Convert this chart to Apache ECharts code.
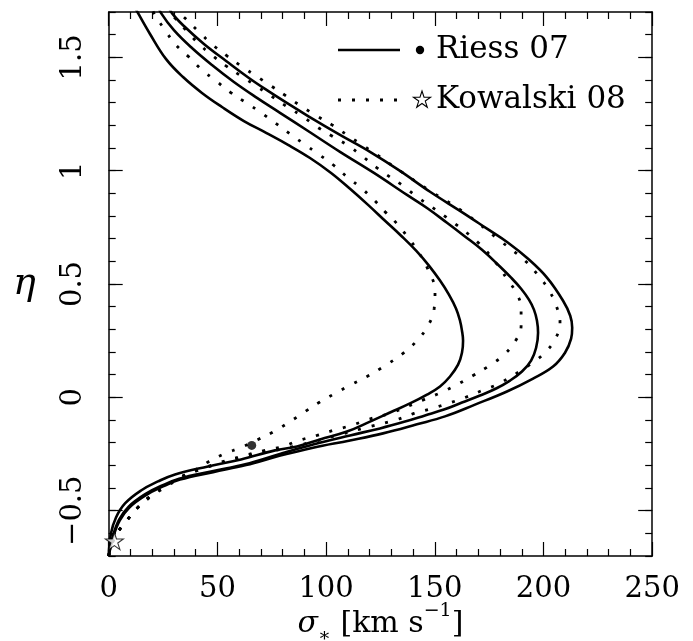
<!DOCTYPE html>
<html>
<head>
<meta charset="utf-8">
<script src="https://cdn.jsdelivr.net/npm/echarts@6/dist/echarts.min.js"></script>
<style>
  html, body { margin: 0; padding: 0; background: #fff; }
  #chart { width: 693px; height: 641px; }
</style>
</head>
<body>
<div id="chart"></div>
<script>
// Constraint curves in the (sigma_*, eta) plane, [sigma, eta] pairs.
const solidInner = [
  [0,-0.70],[1.06,-0.600],[3.36,-0.530],[7.50,-0.468],[14.86,-0.411],[22.68,-0.371],[30.50,-0.340],
  [45.68,-0.305],[60.86,-0.274],[76.5,-0.234],[86.6,-0.217],[97.2,-0.186],[109.6,-0.151],
  [120.2,-0.107],[129.4,-0.067],[138.6,-0.027],[146.4,0.012],[152.4,0.048],[157.0,0.092],
  [160.7,0.144],[162.5,0.197],[163.0,0.250],[162.5,0.294],[161.6,0.338],[159.8,0.391],
  [156.5,0.453],[152.4,0.515],[147.3,0.581],[141.4,0.647],[134.5,0.713],[127.1,0.779],
  [119.3,0.849],[111.0,0.920],[102.3,0.990],[92.6,1.056],[82.5,1.114],[72.4,1.167],
  [62.2,1.219],[52.1,1.281],[42.9,1.343],[34.2,1.413],[26.4,1.492],[19.0,1.603],[13.5,1.695],
  [11.6,1.730]
];
const solidMiddle = [
  [0,-0.70],[2.0,-0.610],[4.8,-0.540],[9.2,-0.482],[16.8,-0.427],[24.6,-0.389],[32.4,-0.359],
  [47.6,-0.326],[62.8,-0.295],[78.0,-0.252],[94.0,-0.208],[111.0,-0.168],[124.8,-0.137],
  [136.3,-0.107],[145.5,-0.080],[154.2,-0.054],[162.5,-0.023],[170.8,0.008],[178.2,0.039],
  [184.6,0.074],[190.1,0.114],[194.3,0.162],[196.6,0.219],[197.5,0.285],[197.0,0.338],
  [195.6,0.387],[193.3,0.431],[189.7,0.479],[185.1,0.528],[179.1,0.585],[171.7,0.651],
  [163.4,0.713],[155.6,0.770],[146.9,0.832],[137.2,0.893],[122.0,0.990],[106.4,1.083],
  [91.7,1.175],[78.8,1.255],[68.2,1.321],[57.6,1.391],[47.5,1.466],[38.3,1.541],[30.0,1.620],
  [24.1,1.695],[22.7,1.730]
];
const solidOuter = [
  [0,-0.70],[2.2,-0.612],[5.1,-0.543],[9.5,-0.486],[17.2,-0.431],[25.0,-0.393],[32.8,-0.363],
  [48.0,-0.330],[63.2,-0.299],[78.5,-0.258],[94.0,-0.222],[111.0,-0.190],[126.2,-0.159],
  [141.8,-0.119],[154.7,-0.084],[168.5,-0.032],[183.2,0.026],[195.2,0.083],[204.4,0.136],
  [209.9,0.197],[212.7,0.259],[213.2,0.307],[212.3,0.360],[209.0,0.426],[201.6,0.528],
  [192.9,0.611],[183.7,0.682],[174.0,0.744],[163.0,0.814],[147.8,0.907],[134.0,0.999],
  [120.2,1.083],[106.4,1.158],[91.7,1.241],[83.4,1.290],[73.3,1.352],[64.5,1.409],[54.0,1.484],
  [43.8,1.559],[34.6,1.638],[29.1,1.695],[27.3,1.730]
];
const dottedInner = [
  [0,-0.70],[1.52,-0.635],[4.28,-0.591],[7.96,-0.547],[12.56,-0.494],[19.0,-0.441],[25.9,-0.397],
  [32.8,-0.358],[39.7,-0.322],[46.14,-0.283],[53.5,-0.248],[60.86,-0.221],[68.68,-0.186],
  [76.04,-0.151],[83.4,-0.107],[90.3,-0.063],[96.74,-0.023],[104.1,0.017],[111.5,0.056],
  [118.8,0.092],[125.7,0.131],[135.8,0.197],[141.8,0.250],[146.9,0.316],[149.7,0.391],
  [150.1,0.471],[146.9,0.563],[142.7,0.638],[138.1,0.700],[132.6,0.766],[127.1,0.819],
  [122.0,0.871],[116.1,0.924],[109.6,0.973],[103.2,1.026],[96.28,1.074],[89.84,1.118],
  [83.4,1.162],[76.5,1.211],[69.6,1.259],[62.7,1.303],[55.8,1.347],[49.36,1.396],[42.92,1.444],
  [36.94,1.501],[30.96,1.554],[25.9,1.620],[21.3,1.686],[19.9,1.713]
];
const dottedMiddle = [
  [0,-0.70],[1.98,-0.635],[4.74,-0.587],[8.42,-0.543],[13.02,-0.490],[19.0,-0.437],[25.9,-0.393],
  [32.8,-0.353],[42.0,-0.318],[51.2,-0.287],[60.86,-0.261],[71.9,-0.234],[80.18,-0.217],
  [87.54,-0.190],[95.82,-0.168],[103.2,-0.146],[111.5,-0.124],[119.3,-0.098],[130.3,-0.067],
  [145.0,-0.010],[152.9,0.021],[160.2,0.056],[167.6,0.096],[174.5,0.136],[181.4,0.184],
  [186.9,0.246],[189.7,0.316],[189.7,0.396],[186.9,0.471],[183.7,0.515],[179.1,0.581],
  [170.0,0.682],[155.6,0.792],[141.8,0.885],[135.4,0.933],[128.0,0.981],[123.4,1.012],
  [116.5,1.065],[109.6,1.114],[102.7,1.153],[95.82,1.193],[88.92,1.241],[81.56,1.285],
  [74.66,1.330],[67.76,1.374],[60.86,1.418],[53.96,1.462],[47.98,1.506],[41.54,1.559],
  [35.56,1.620],[30.5,1.673],[28.2,1.704]
];
const dottedOuter = [
  [0,-0.70],[1.98,-0.635],[4.74,-0.587],[8.42,-0.543],[13.02,-0.490],[19.0,-0.437],[25.9,-0.393],
  [32.8,-0.353],[42.0,-0.318],[51.2,-0.292],[65.0,-0.256],[78.8,-0.230],[92.6,-0.199],
  [106.4,-0.164],[120.2,-0.129],[132.6,-0.098],[140.4,-0.071],[148.7,-0.049],[156.1,-0.027],
  [163.9,-0.001],[171.7,0.030],[179.6,0.061],[193.8,0.145],[200.2,0.193],[205.3,0.255],
  [207.6,0.330],[205.7,0.409],[202.1,0.479],[198.4,0.528],[191.5,0.603],[180.0,0.691],
  [163.0,0.819],[147.8,0.911],[134.0,0.999],[123.4,1.070],[116.5,1.114],[109.6,1.158],
  [102.7,1.202],[95.82,1.241],[88.46,1.285],[81.56,1.330],[74.66,1.374],[67.76,1.418],
  [60.86,1.462],[54.42,1.506],[47.98,1.554],[41.54,1.612],[36.02,1.664],[32.8,1.695],[31.0,1.721]
];

// Best-fit points of the two supernova samples
const riessPoint = [65.8, -0.212];
const kowalskiPoint = [2.6, -0.634];

// Axis ranges and labelled ticks
const xRange = [0, 250];
const yRange = [-0.7, 1.7];
const xMajorTicks = [0, 50, 100, 150, 200, 250];
const yMajorTicks = [-0.5, 0, 0.5, 1, 1.5];

const FONT = 'DejaVu Serif';
const INK = '#000';
const STAR = 'path://M50,0 L61.23,34.55 L97.55,34.55 L68.17,55.9 L79.39,90.45 L50,69.1 L20.61,90.45 L31.83,55.9 L2.45,34.55 L38.77,34.55 Z';

// five-pointed star outline around (cx, cy) for the legend key
function starPoints(cx, cy, r) {
  const pts = [];
  for (let k = 0; k < 10; k++) {
    const a = -Math.PI / 2 + k * Math.PI / 5;
    const rr = k % 2 === 0 ? r : r * 0.382;
    pts.push([cx + rr * Math.cos(a), cy + rr * Math.sin(a)]);
  }
  return pts;
}

function fmtEta(v) {
  const r = Math.round(v * 10) / 10;
  const s = String(Math.abs(r));
  return r < 0 ? '\u2212' + s : s;
}
function isMajorY(v) {
  return yMajorTicks.some(t => Math.abs(t - v) < 1e-6);
}
function isMajorX(v) {
  return xMajorTicks.some(t => Math.abs(t - v) < 1e-6);
}

const axisLine = { show: true, onZero: false, lineStyle: { color: INK, width: 1.5 } };

function xAxisDef(position, withLabels) {
  return {
    type: 'value', position: position, min: xRange[0], max: xRange[1], interval: 50,
    axisLine: axisLine,
    axisTick: { show: true, inside: true, length: 14, lineStyle: { color: INK, width: 1.2 } },
    minorTick: { show: true, splitNumber: 5, length: 7, lineStyle: { color: INK, width: 1.2 } },
    splitLine: { show: false }, minorSplitLine: { show: false },
    axisLabel: withLabels ? {
      show: true, color: INK, fontFamily: FONT, fontSize: 29, margin: 19,
      formatter: v => isMajorX(v) ? String(v) : ''
    } : { show: false }
  };
}
function yMinorDef(position, withLabels) {
  return {
    type: 'value', position: position, min: yRange[0], max: yRange[1], interval: 0.1,
    axisLine: axisLine,
    axisTick: { show: true, inside: true, length: 7, lineStyle: { color: INK, width: 1.2 } },
    splitLine: { show: false },
    axisLabel: withLabels ? {
      show: true, color: INK, fontFamily: FONT, fontSize: 29, rotate: 90, margin: 21,
      formatter: v => isMajorY(v) ? fmtEta(v) : ''
    } : { show: false }
  };
}
function yMajorDef(position) {
  return {
    type: 'value', position: position, min: yRange[0], max: yRange[1],
    axisLine: { show: false, onZero: false },
    axisTick: { show: true, inside: true, length: 14, customValues: yMajorTicks, lineStyle: { color: INK, width: 1.2 } },
    splitLine: { show: false },
    axisLabel: { show: false }
  };
}

function curve(data, dotted) {
  return {
    type: 'line', data: data, xAxisIndex: 0, yAxisIndex: 0,
    showSymbol: false, symbol: 'none', smooth: 0.4, silent: true, z: 3,
    lineStyle: dotted
      ? { color: INK, width: 2.8, type: [3, 11], cap: 'butt' }
      : { color: INK, width: 2.6, type: 'solid' }
  };
}

const xBottom = xAxisDef('bottom', true);
xBottom.name = '{i|\u03c3}{sub|\u2217}{t| [km s}{sup|\u22121}{t|]}';
xBottom.nameLocation = 'middle';
xBottom.nameGap = 46;
xBottom.nameMoveOverlap = false;
xBottom.nameTextStyle = {
  rich: {
    i: { fontFamily: FONT, fontStyle: 'italic', fontSize: 30, color: INK, lineHeight: 44 },
    t: { fontFamily: FONT, fontSize: 30, color: INK, lineHeight: 44 },
    sub: { fontFamily: FONT, fontSize: 19, color: INK, verticalAlign: 'bottom', lineHeight: 19 },
    sup: { fontFamily: FONT, fontSize: 19, color: INK, verticalAlign: 'top', lineHeight: 19 }
  }
};

const yLeft = yMinorDef('left', true);
yLeft.name = '\u03b7';
yLeft.nameLocation = 'middle';
yLeft.nameGap = 73;
yLeft.nameRotate = 0;
yLeft.nameMoveOverlap = false;
yLeft.nameTextStyle = { fontFamily: FONT, fontStyle: 'italic', fontSize: 38, color: INK };

const legendFont = '31px "DejaVu Serif"';

const option = {
  animation: false,
  backgroundColor: '#fff',
  grid: { left: 108.7, right: 40.8, top: 12, bottom: 85, containLabel: false, outerBoundsMode: 'none' },
  xAxis: [xBottom, xAxisDef('top', false)],
  yAxis: [yLeft, yMajorDef('left'), yMinorDef('right', false), yMajorDef('right')],
  series: [
    curve(solidInner, false),
    curve(solidMiddle, false),
    curve(solidOuter, false),
    curve(dottedInner, true),
    curve(dottedMiddle, true),
    curve(dottedOuter, true),
    {
      type: 'scatter', name: 'Riess 07', data: [riessPoint], xAxisIndex: 0, yAxisIndex: 0,
      symbol: 'circle', symbolSize: 9, itemStyle: { color: INK }, z: 5, silent: true
    },
    {
      type: 'scatter', name: 'Kowalski 08', data: [kowalskiPoint], xAxisIndex: 0, yAxisIndex: 0,
      symbol: STAR, symbolSize: 18, symbolKeepAspect: true,
      itemStyle: { color: '#fff', borderColor: INK, borderWidth: 1.1 }, z: 5, silent: true
    }
  ],
  graphic: [
    { type: 'line', shape: { x1: 338, y1: 50, x2: 400, y2: 50 }, style: { stroke: INK, lineWidth: 2.6 } },
    { type: 'circle', shape: { cx: 420, cy: 50, r: 4.2 }, style: { fill: INK } },
    { type: 'text', x: 436, y: 50, style: { text: 'Riess 07', font: legendFont, fill: INK, align: 'left', verticalAlign: 'middle' } },
    { type: 'line', shape: { x1: 338, y1: 100, x2: 402, y2: 100 }, style: { stroke: INK, lineWidth: 2.8, lineDash: [3, 11] } },
    { type: 'polygon', shape: { points: starPoints(422, 100, 9) }, style: { fill: '#fff', stroke: INK, lineWidth: 1.1 } },
    { type: 'text', x: 436, y: 100, style: { text: 'Kowalski 08', font: legendFont, fill: INK, align: 'left', verticalAlign: 'middle' } }
  ]
};

const chart = echarts.init(document.getElementById('chart'), null, { renderer: 'canvas' });
chart.setOption(option);
</script>
</body>
</html>
